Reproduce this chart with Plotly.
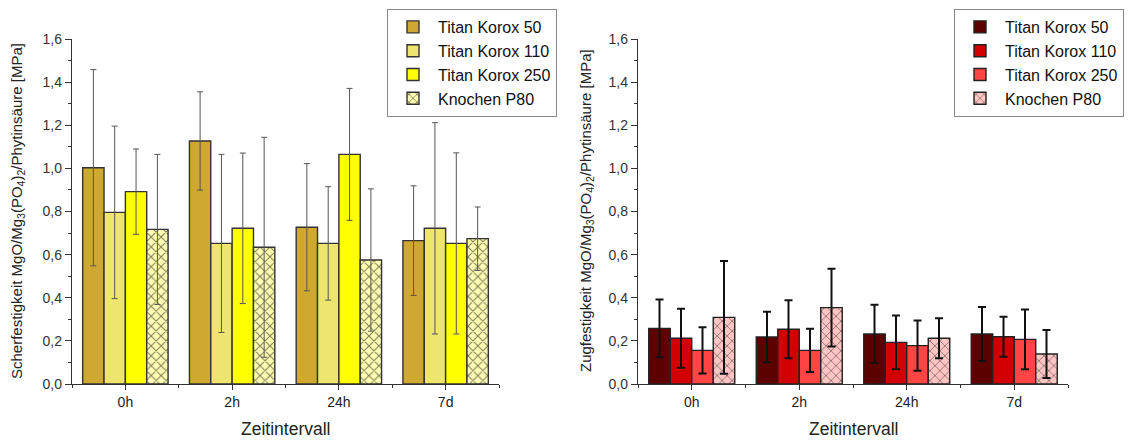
import plotly.graph_objects as go

categories = ["0h", "2h", "24h", "7d"]
series_names = ["Titan Korox 50", "Titan Korox 110", "Titan Korox 250", "Knochen P80"]

# Left: Scherfestigkeit (shear strength) [MPa]
shear_tk50 = [1.003, 1.127, 0.727, 0.665]
shear_tk50_err = [0.455, 0.228, 0.295, 0.254]
shear_tk110 = [0.796, 0.652, 0.652, 0.722]
shear_tk110_err = [0.400, 0.413, 0.263, 0.490]
shear_tk250 = [0.892, 0.722, 1.065, 0.652]
shear_tk250_err = [0.198, 0.349, 0.306, 0.420]
shear_bone = [0.717, 0.634, 0.575, 0.674]
shear_bone_err = [0.348, 0.510, 0.330, 0.147]

# Right: Zugfestigkeit (tensile strength) [MPa]
tens_tk50 = [0.258, 0.218, 0.232, 0.232]
tens_tk50_err = [0.134, 0.117, 0.135, 0.125]
tens_tk110 = [0.212, 0.254, 0.193, 0.219]
tens_tk110_err = [0.137, 0.134, 0.125, 0.093]
tens_tk250 = [0.156, 0.156, 0.178, 0.207]
tens_tk250_err = [0.107, 0.100, 0.117, 0.139]
tens_bone = [0.309, 0.354, 0.212, 0.139]
tens_bone_err = [0.262, 0.180, 0.093, 0.111]

left_colors = ["#CFA832", "#EEE56E", "#FFFF00", "#FFFFB4"]
right_colors = ["#5C0000", "#D20000", "#FF4444", "#FFC4C4"]

xpos = list(range(len(categories)))
FONT = "Liberation Sans, Arial, sans-serif"

fig = go.Figure()

left_sets = [(shear_tk50, shear_tk50_err), (shear_tk110, shear_tk110_err),
             (shear_tk250, shear_tk250_err), (shear_bone, shear_bone_err)]
right_sets = [(tens_tk50, tens_tk50_err), (tens_tk110, tens_tk110_err),
              (tens_tk250, tens_tk250_err), (tens_bone, tens_bone_err)]

for i, (vals, errs) in enumerate(left_sets):
    marker = dict(color=left_colors[i], line=dict(color="#333333", width=1.4))
    if i == 3:
        marker["pattern"] = dict(shape="x", fgcolor="#000000", bgcolor=left_colors[i],
                                 size=7, solidity=0.28)
    fig.add_trace(go.Bar(
        x=xpos, y=vals, name=series_names[i], marker=marker,
        error_y=dict(type="data", array=errs, color="#555555", thickness=1, width=3),
        xaxis="x", yaxis="y", legend="legend", offsetgroup=str(i),
    ))

for i, (vals, errs) in enumerate(right_sets):
    marker = dict(color=right_colors[i], line=dict(color="#222222", width=1.4))
    if i == 3:
        marker["pattern"] = dict(shape="x", fgcolor="#222222", bgcolor=right_colors[i],
                                 size=7, solidity=0.24)
    fig.add_trace(go.Bar(
        x=xpos, y=vals, name=series_names[i], marker=marker,
        error_y=dict(type="data", array=errs, color="#111111", thickness=2, width=4),
        xaxis="x2", yaxis="y2", legend="legend2", offsetgroup=str(i),
    ))

W, H = 1134, 440
ydom = [(H - 384) / H, (H - 39) / H]

def xax(dom, anchor):
    return dict(
        domain=dom, anchor=anchor, range=[-0.5, 3.5],
        tickmode="array", tickvals=xpos, ticktext=categories,
        ticks="outside", ticklen=5, tickwidth=1, tickcolor="#333",
        minor=dict(tickvals=[-0.5, 0.5, 1.5, 2.5, 3.5], ticks="outside", ticklen=3,
                   tickwidth=1, tickcolor="#333"),
        showline=True, linecolor="#333", linewidth=1.3, showgrid=False,
        zeroline=False, automargin=False,
        tickfont=dict(family=FONT, size=14, color="#222"),
    )

def yax(anchor):
    return dict(
        domain=ydom, anchor=anchor, range=[0, 1.6], dtick=0.2, tick0=0,
        tickformat=".1f", ticks="outside", ticklen=6, tickwidth=1, tickcolor="#333",
        minor=dict(dtick=0.1, ticks="outside", ticklen=3, tickwidth=1, tickcolor="#333"),
        showline=True, linecolor="#333", linewidth=1.3, showgrid=False,
        zeroline=False, automargin=False,
        tickfont=dict(family=FONT, size=14, color="#333"),
    )

legend_common = dict(
    xanchor="left", yanchor="top", bgcolor="white", bordercolor="#888",
    borderwidth=1, font=dict(family=FONT, size=16, color="#111"),
    tracegroupgap=0, itemwidth=40, itemclick=False,
)

ytitle_font = dict(family=FONT, size=15, color="#222")
fig.update_layout(
    width=W, height=H, margin=dict(l=0, r=0, t=0, b=0),
    paper_bgcolor="white", plot_bgcolor="white",
    separators=",.", barmode="group", bargap=0.2, bargroupgap=0,
    showlegend=True,
    xaxis=xax([72 / W, 499 / W], "y"),
    yaxis=yax("x"),
    xaxis2=xax([638 / W, 1068 / W], "y2"),
    yaxis2=yax("x2"),
    legend=dict(x=387 / W, y=1 - 9 / H, **legend_common),
    legend2=dict(x=954 / W, y=1 - 9 / H, **legend_common),
    annotations=[
        dict(text="Scherfestigkeit MgO/Mg<sub>3</sub>(PO<sub>4</sub>)<sub>2</sub>/Phytinsäure [MPa]",
             x=18 / W, y=1 - 211 / H, xref="paper", yref="paper", textangle=-90,
             xanchor="center", yanchor="middle", showarrow=False, font=ytitle_font),
        dict(text="Zugfestigkeit MgO/Mg<sub>3</sub>(PO<sub>4</sub>)<sub>2</sub>/Phytinsäure [MPa]",
             x=587 / W, y=1 - 211 / H, xref="paper", yref="paper", textangle=-90,
             xanchor="center", yanchor="middle", showarrow=False, font=ytitle_font),
        dict(text="Zeitintervall", x=285 / W, y=1 - 429 / H, xref="paper", yref="paper",
             xanchor="center", yanchor="middle",
             showarrow=False, font=dict(family=FONT, size=17.5, color="#222")),
        dict(text="Zeitintervall", x=853 / W, y=1 - 429 / H, xref="paper", yref="paper",
             xanchor="center", yanchor="middle",
             showarrow=False, font=dict(family=FONT, size=17.5, color="#222")),
    ],
)

fig.write_html("out.html")
